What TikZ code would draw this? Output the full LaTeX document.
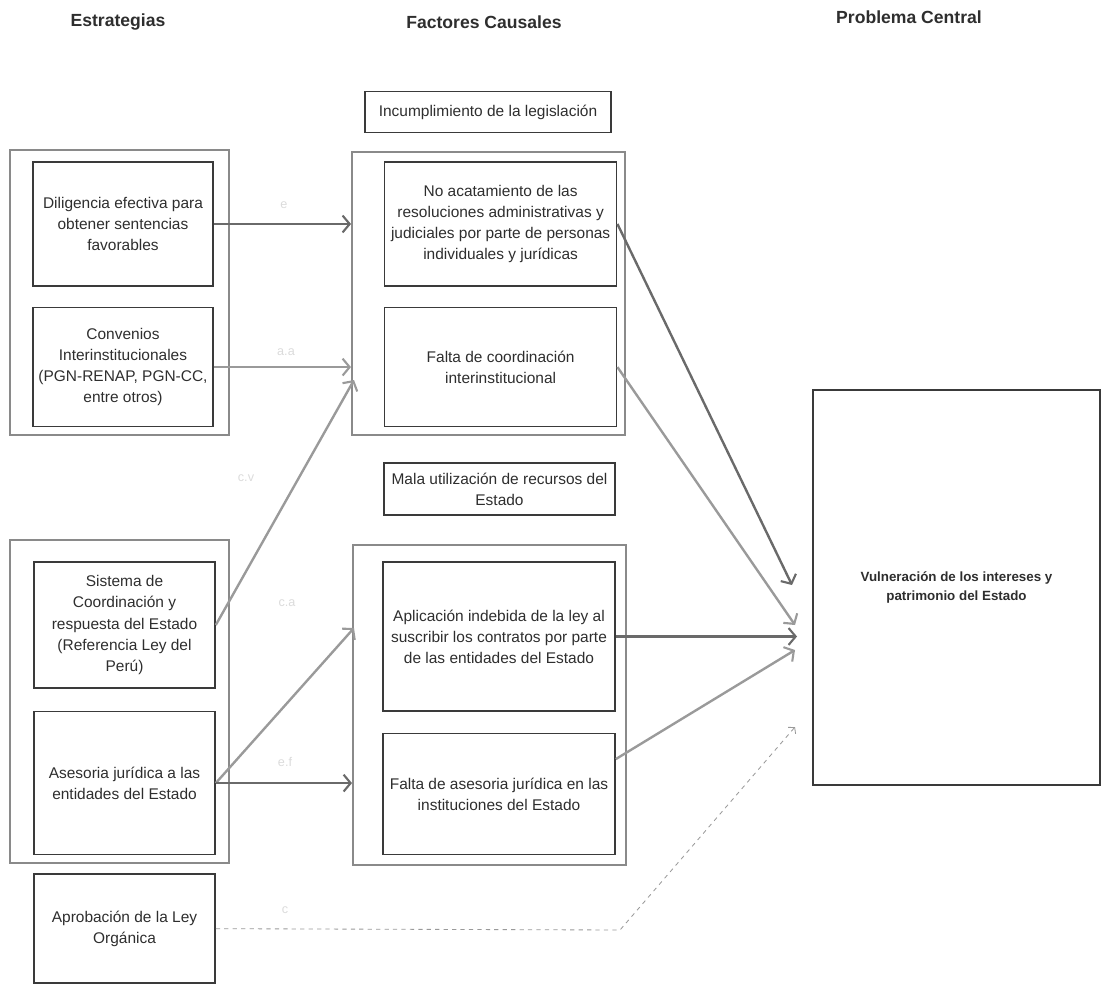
\documentclass[tikz,border=0pt]{standalone}
\usepackage{fontspec}
\setmainfont{Liberation Sans}
\usetikzlibrary{arrows.meta, positioning, fit, calc}

\definecolor{boxgray}{HTML}{3A3A3A}
\definecolor{groupgray}{HTML}{8A8A8A}
\definecolor{textgray}{HTML}{2E2E2E}
\definecolor{arrowgray}{HTML}{6A6A6A}
\definecolor{lightarrow}{HTML}{9A9A9A}

\tikzset{
  causebox/.style={rectangle, draw=boxgray, line width=1.1pt, align=center, text=textgray, inner sep=2pt},
  groupbox/.style={rectangle, draw=groupgray, line width=1.4pt, inner sep=0pt},
  header/.style={font=\fontsize{12.5}{15}\selectfont\bfseries, text=textgray},
  linkarrow/.style={-{Straight Barb[length=5pt,width=12pt,line width=1.5pt]}, line width=1.7pt, draw=arrowgray},
  faintlabel/.style={text=gray!28, font=\fontsize{9}{11}\selectfont}
}

\begin{document}
\begin{tikzpicture}[x=0.025cm, y=-0.025cm, node distance=0.3cm, font=\fontsize{11}{15}\selectfont]
\useasboundingbox (0,0) rectangle (1104,987);

% Headers
\node[header] (hestr) at (118,22) {Estrategias};
\node[header] (hfact) at (484,22) {Factores Causales};
\node[header] (hprob) at (909,17) {Problema Central};

% Strategies, first group
\node[causebox, minimum width=4.5cm, minimum height=3.1cm] (dilig) at (123,224) {Diligencia efectiva para\\obtener sentencias\\favorables};
\node[causebox, minimum width=4.5cm, minimum height=2.975cm, below=0.5cm of dilig] (conven) {Convenios\\Interinstitucionales\\(PGN-RENAP, PGN-CC,\\entre otros)};
\node[groupbox, fit={(10,150) (229,435)}] (estr1) {};

% Causal factors, first group
\node[causebox, minimum width=6.15cm, minimum height=1.025cm] (incump) at (488,112) {Incumplimiento de la legislación};
\node[causebox, minimum width=5.8cm, minimum height=3.1cm, right=4.25cm of dilig] (noacat) {No acatamiento de las\\resoluciones administrativas y\\judiciales por parte de personas\\individuales y jurídicas};
\node[causebox, minimum width=5.8cm, minimum height=2.975cm, below=0.5cm of noacat] (faltacoord) {Falta de coordinación\\interinstitucional};
\node[groupbox, fit={(352,152) (625,435)}] (fact1) {};

% Strategies, second group
\node[causebox, minimum width=4.525cm, minimum height=3.15cm] (sistema) at (124.5,625) {Sistema de\\Coordinación y\\respuesta del Estado\\(Referencia Ley del\\Perú)};
\node[causebox, minimum width=4.525cm, minimum height=3.575cm, below=0.55cm of sistema] (asesor) {Asesoria jurídica a las\\entidades del Estado};
\node[groupbox, fit={(10,540) (229,863)}] (estr2) {};
\node[causebox, minimum width=4.525cm, minimum height=2.725cm, below=0.45cm of asesor] (aprob) {Aprobación de la Ley\\Orgánica};

% Causal factors, second group
\node[causebox, minimum width=5.775cm, minimum height=1.3cm] (mala) at (499.5,489) {Mala utilización de recursos del\\Estado};
\node[causebox, minimum width=5.8cm, minimum height=3.725cm] (aplic) at (499,636.5) {Aplicación indebida de la ley al\\suscribir los contratos por parte\\de las entidades del Estado};
\node[causebox, minimum width=5.8cm, minimum height=3.025cm, below=0.525cm of aplic] (faltaases) {Falta de asesoria jurídica en las\\instituciones del Estado};
\node[groupbox, fit={(353,545) (626,865)}] (fact2) {};

% Central problem
\node[causebox, minimum width=7.175cm, minimum height=9.875cm, font=\fontsize{9.5}{14}\selectfont\bfseries] (problema) at (956.5,587.5) {Vulneración de los intereses y\\patrimonio del Estado};

% Arrow ends
\coordinate (sisend) at (354,380);
\coordinate (apend) at (354,628);
\coordinate (pc1) at (792,585);
\coordinate (pc2) at (795,625);
\coordinate (pc3) at (797,630);
\coordinate (pc4) at (795,650);
\coordinate (pc5) at (795,727);
\coordinate (dashbend) at (620,930);

% Strategies to causal factors
\draw[linkarrow] (dilig.east) -- (dilig.east -| fact1.west);
\draw[linkarrow, draw=lightarrow] (conven.east) -- (conven.east -| fact1.west);
\draw[linkarrow, draw=lightarrow] (sistema.east) -- (sisend);
\draw[linkarrow, draw=lightarrow] (asesor.east) -- (apend);
\draw[linkarrow] (asesor.east) -- (asesor.east -| fact2.west);

% Causal factors to central problem
\draw[linkarrow] (noacat.east) -- (pc1);
\draw[linkarrow, draw=lightarrow] (faltacoord.east) -- (pc2);
\draw[linkarrow] (aplic.east) -- (aplic.east -| pc3);
\draw[linkarrow, draw=lightarrow] ($(faltaases.east)+(0,-35)$) -- (pc4);
\draw[-{Straight Barb[length=3pt,width=7pt]}, dashed, draw=lightarrow, line width=0.6pt] (aprob.east) -- (dashbend) -- (pc5);

% Faint arrow labels
\node[faintlabel] (le) at (284,205) {e};
\node[faintlabel] (laa) at (286,352) {a.a};
\node[faintlabel] (lcv) at (246,478) {c.v};
\node[faintlabel] (lca) at (287,603) {c.a};
\node[faintlabel] (lef) at (285,762) {e.f};
\node[faintlabel] (lc) at (285,910) {c};

\end{tikzpicture}
\end{document}
